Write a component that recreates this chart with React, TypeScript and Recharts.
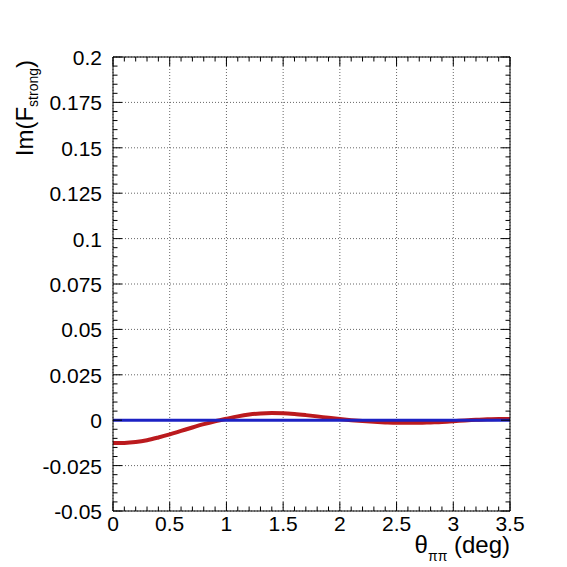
import { CartesianGrid, Line, LineChart, XAxis, YAxis } from "recharts";

const theta = [
  0, 0.1, 0.2, 0.3, 0.4, 0.5, 0.6, 0.7, 0.8, 0.9, 1.0, 1.1, 1.2, 1.3, 1.4, 1.5, 1.6, 1.7,
  1.8, 1.9, 2.0, 2.1, 2.2, 2.3, 2.4, 2.5, 2.6, 2.7, 2.8, 2.9, 3.0, 3.1, 3.2, 3.3, 3.4, 3.5,
];
const imRed = [
  -0.0126, -0.0125, -0.012, -0.011, -0.0095, -0.0078, -0.0059, -0.004, -0.0022, -0.0006,
  0.0008, 0.0021, 0.0031, 0.0037, 0.0039, 0.0038, 0.0034, 0.0028, 0.0021, 0.0013, 0.0006,
  0.0, -0.0005, -0.0009, -0.0012, -0.0014, -0.0014, -0.0014, -0.0012, -0.001, -0.0006,
  -0.0001, 0.0003, 0.0005, 0.0007, 0.0007,
];
const imBlue = [
  0, 0, 0, 0, 0, 0, 0, 0, 0, 0, 0, 0, 0, 0, 0, 0, 0, 0,
  0, 0, 0, 0, 0, 0, 0, 0, 0, 0, 0, 0, 0, 0, 0, 0, 0, 0,
];

const xMajor = [0, 0.5, 1, 1.5, 2, 2.5, 3, 3.5];
const yMajor = [-0.05, -0.025, 0, 0.025, 0.05, 0.075, 0.1, 0.125, 0.15, 0.175, 0.2];

// 5 minor divisions between majors, like ROOT's default
function subdivide(majors: number[]) {
  const out: number[] = [];
  for (let i = 0; i < majors.length - 1; i++) {
    const step = (majors[i + 1] - majors[i]) / 5;
    for (let k = 0; k < 5; k++) out.push(majors[i] + k * step);
  }
  out.push(majors[majors.length - 1]);
  return out;
}
const xTicks = subdivide(xMajor);
const yTicks = subdivide(yMajor);

const data = theta.map((t, i) => ({ t, red: imRed[i], blue: imBlue[i] }));

const FONT = "'Liberation Sans', Arial, Helvetica, sans-serif";
const MAJOR = 9;
const MINOR = 4.5;

const isMajor = (v: number, list: number[]) => list.some((m) => Math.abs(m - v) < 1e-9);
const fmt = (v: number) => String(Number(v.toFixed(4)));

function BottomTick(props: any) {
  const { x, y, payload } = props;
  const major = isMajor(payload.value, xMajor);
  return (
    <g>
      <line x1={x} x2={x} y1={y} y2={y - (major ? MAJOR : MINOR)} stroke="#000" />
      {major && (
        <text x={x} y={y + 20} textAnchor="middle" fontSize={21} fontFamily={FONT} fill="#000">
          {fmt(payload.value)}
        </text>
      )}
    </g>
  );
}

function TopTick(props: any) {
  const { x, y, payload } = props;
  const major = isMajor(payload.value, xMajor);
  return <line x1={x} x2={x} y1={y} y2={y + (major ? MAJOR : MINOR)} stroke="#000" />;
}

function LeftTick(props: any) {
  const { x, y, payload } = props;
  const major = isMajor(payload.value, yMajor);
  return (
    <g>
      <line x1={x} x2={x + (major ? MAJOR : MINOR)} y1={y} y2={y} stroke="#000" />
      {major && (
        <text x={x - 11} y={y + 8} textAnchor="end" fontSize={21} fontFamily={FONT} fill="#000">
          {fmt(payload.value)}
        </text>
      )}
    </g>
  );
}

function RightTick(props: any) {
  const { x, y, payload } = props;
  const major = isMajor(payload.value, yMajor);
  return <line x1={x} x2={x - (major ? MAJOR : MINOR)} y1={y} y2={y} stroke="#000" />;
}

export default function App() {
  return (
    <div style={{ position: "absolute", left: 0, top: 0, width: 567, height: 567, background: "#fff" }}>
      <LineChart
        width={567}
        height={567}
        data={data}
        margin={{ top: 56, right: 56, bottom: 26, left: 53 }}>
        <CartesianGrid
          stroke="#666"
          strokeDasharray="1 2"
          verticalValues={xMajor}
          horizontalValues={yMajor}
        />
        <XAxis
          dataKey="t"
          type="number"
          domain={[0, 3.5]}
          allowDataOverflow
          ticks={xTicks}
          interval={0}
          height={30}
          tickSize={0}
          tickMargin={0}
          tickLine={false}
          axisLine={{ stroke: "#000" }}
          tick={<BottomTick />}
        />
        <XAxis
          xAxisId="top"
          dataKey="t"
          orientation="top"
          type="number"
          domain={[0, 3.5]}
          allowDataOverflow
          ticks={xTicks}
          interval={0}
          height={1}
          tickSize={0}
          tickMargin={0}
          tickLine={false}
          axisLine={{ stroke: "#000" }}
          tick={<TopTick />}
        />
        <YAxis
          type="number"
          domain={[-0.05, 0.2]}
          allowDataOverflow
          ticks={yTicks}
          interval={0}
          width={60}
          tickSize={0}
          tickMargin={0}
          tickLine={false}
          axisLine={{ stroke: "#000" }}
          tick={<LeftTick />}
        />
        <YAxis
          yAxisId="right"
          orientation="right"
          type="number"
          domain={[-0.05, 0.2]}
          allowDataOverflow
          ticks={yTicks}
          interval={0}
          width={1}
          tickSize={0}
          tickMargin={0}
          tickLine={false}
          axisLine={{ stroke: "#000" }}
          tick={<RightTick />}
        />
        <Line
          type="monotone"
          dataKey="red"
          stroke="#bb1a1e"
          strokeWidth={4}
          dot={false}
          isAnimationActive={false}
        />
        <Line
          type="monotone"
          dataKey="blue"
          stroke="#1c22c4"
          strokeWidth={3}
          dot={false}
          isAnimationActive={false}
        />
        {/* invisible series so the top and right frame axes get their own scales */}
        <Line
          xAxisId="top"
          yAxisId="right"
          dataKey="blue"
          stroke="none"
          dot={false}
          legendType="none"
          isAnimationActive={false}
        />
      </LineChart>
      <svg
        width={567}
        height={567}
        style={{ position: "absolute", left: 0, top: 0, pointerEvents: "none" }}>
        <text x={510} y={553} textAnchor="end" fontSize={24} fontFamily={FONT} fill="#000">
          θ
          <tspan fontSize={14} dy={8}>ππ</tspan>
          <tspan dy={-8}> (deg)</tspan>
        </text>
        <text
          transform="translate(33,60) rotate(-90)"
          textAnchor="end"
          fontSize={24}
          fontFamily={FONT}
          fill="#000">
          Im(F
          <tspan fontSize={14} dy={5}>strong</tspan>
          <tspan dy={-5}>)</tspan>
        </text>
      </svg>
    </div>
  );
}
